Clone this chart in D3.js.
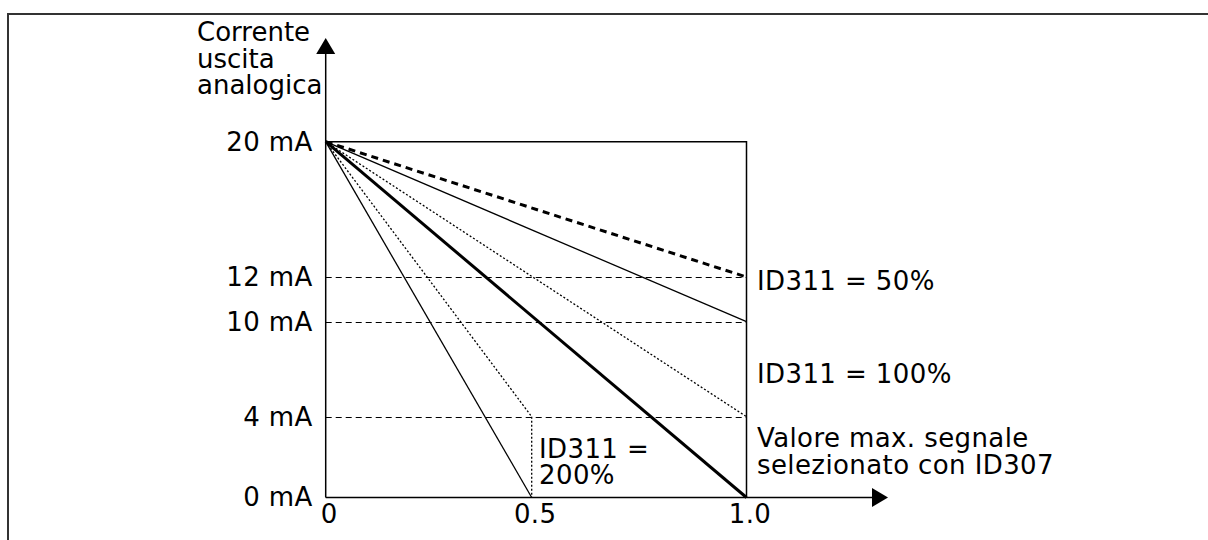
<!DOCTYPE html>
<html>
<head>
<meta charset="utf-8">
<script src="https://cdn.jsdelivr.net/npm/d3@7"></script>
<style>
  html, body { margin: 0; padding: 0; background: #fff; }
  svg { display: block; }
  text { font-family: "DejaVu Sans", Verdana, sans-serif; fill: #000; letter-spacing: 0.4px; }
  text.title { letter-spacing: 0px; }
</style>
</head>
<body>
<svg id="chart" width="1208" height="540"></svg>
<script>
// ---- data ----
const xTicks = [0, 0.5, 1.0];
const xTickLabels = ["0", "0.5", "1.0"];
const yTicks = [0, 4, 10, 12, 20];
const yTickLabels = ["0 mA", "4 mA", "10 mA", "12 mA", "20 mA"];
const yAxisTitle = ["Corrente", "uscita", "analogica"];
// every characteristic line starts at (0, 20 mA)
const startX = 0, startY = 20;
const endX = [1.0, 1.0, 1.0, 1.0, 0.5, 0.5];
const endY = [12, 10, 4, 0, 4, 0];
const guideLevels = [12, 10, 4];          // horizontal dashed helper lines
const annotations = [
  { lines: ["ID311 = 50%"] },
  { lines: ["ID311 = 100%"] },
  { lines: ["Valore max. segnale", "selezionato con ID307"] },
  { lines: ["ID311 =", "200%"] }
];

// ---- styles / layout ----
const lineStyles = [
  { w: 3,   dash: "7,5" },
  { w: 1.3, dash: null },
  { w: 1.3, dash: "2,2" },
  { w: 3,   dash: null },
  { w: 1.3, dash: "2,2" },
  { w: 1.3, dash: null }
];
const annoPos = [
  { x: 757, y: 290 },
  { x: 757, y: 383 },
  { x: 757, y: 447, lh: 26.5 },
  { x: 539, y: 458, lh: 25.5 }
];
const FS = 26;

const svg = d3.select("#chart");

// outer frame
svg.append("rect")
  .attr("x", 8).attr("y", 14).attr("width", 1240).attr("height", 560)
  .attr("fill", "none").attr("stroke", "#333").attr("stroke-width", 2);

// scales (schematic diagram: piecewise-linear axes)
const x = d3.scaleLinear().domain([0, 0.5, 1.0]).range([325.7, 531.7, 746.5]);
const y = d3.scaleLinear().domain([0, 4, 10, 12, 20]).range([497.5, 416.7, 321.7, 277, 141.7]);

const g = svg.append("g");

// guide dashed lines
g.selectAll("line.guide").data(guideLevels).join("line")
  .attr("class", "guide")
  .attr("x1", x(0)).attr("x2", x(1.0))
  .attr("y1", d => Math.round(y(d)) + 0.5).attr("y2", d => Math.round(y(d)) + 0.5)
  .attr("stroke", "#000").attr("stroke-width", 1.2).attr("stroke-dasharray", "6,4");

// box: top at 20 mA and right side at 1.0
g.append("path")
  .attr("d", `M${x(0)},${y(20)}H${x(1.0)}V${y(0)}`)
  .attr("fill", "none").attr("stroke", "#000").attr("stroke-width", 1.5);

// vertical dotted drop at 0.5 from 4 mA
g.append("line")
  .attr("x1", x(0.5)).attr("x2", x(0.5))
  .attr("y1", y(4)).attr("y2", y(0))
  .attr("stroke", "#000").attr("stroke-width", 1.3).attr("stroke-dasharray", "2,2");

// characteristic lines
const lineGen = d3.line().x(d => x(d[0])).y(d => y(d[1]));
g.selectAll("path.curve").data(endX.map((ex, i) => [[startX, startY], [ex, endY[i]]])).join("path")
  .attr("class", "curve")
  .attr("d", lineGen)
  .attr("fill", "none")
  .attr("stroke", "#000")
  .attr("stroke-width", (d, i) => lineStyles[i].w)
  .attr("stroke-dasharray", (d, i) => lineStyles[i].dash);

// axes lines with arrows
g.append("line").attr("x1", x(0)).attr("x2", x(0)).attr("y1", y(0)).attr("y2", 54)
  .attr("stroke", "#000").attr("stroke-width", 1.5);
g.append("path").attr("d", `M${x(0)},38L${x(0) - 9.5},54L${x(0) + 9.5},54Z`).attr("fill", "#000");
g.append("line").attr("x1", x(0)).attr("x2", 872).attr("y1", y(0)).attr("y2", y(0))
  .attr("stroke", "#000").attr("stroke-width", 1.5);
g.append("path").attr("d", `M888,${y(0)}L872,${y(0) - 9.5}L872,${y(0) + 9.5}Z`).attr("fill", "#000");

// tick labels via d3 axes
const yAxis = d3.axisLeft(y).tickValues(yTicks).tickSize(0).tickPadding(13)
  .tickFormat(d => yTickLabels[yTicks.indexOf(d)]);
const ya = g.append("g").attr("transform", `translate(${x(0)},0)`).call(yAxis);
ya.select(".domain").remove();
ya.selectAll("text").attr("font-size", FS).attr("font-family", "DejaVu Sans").attr("fill", "#000");

const xAxis = d3.axisBottom(x).tickValues(xTicks).tickSize(0).tickPadding(7)
  .tickFormat(d => xTickLabels[xTicks.indexOf(d)]);
const xa = g.append("g").attr("transform", `translate(0,${y(0)})`).call(xAxis);
xa.select(".domain").remove();
xa.selectAll("text").attr("font-size", FS).attr("font-family", "DejaVu Sans").attr("fill", "#000").attr("dx", 3);

// y axis title
const yt = g.append("text").attr("class", "title").attr("x", 197).attr("y", 41).attr("font-size", FS);
yt.selectAll("tspan").data(yAxisTitle).join("tspan")
  .attr("x", 197).attr("dy", (d, i) => i === 0 ? 0 : 26.5).text(d => d);

// annotations
annotations.forEach((a, k) => {
  const p = annoPos[k];
  const t = g.append("text").attr("x", p.x).attr("y", p.y).attr("font-size", FS);
  t.selectAll("tspan").data(a.lines).join("tspan")
    .attr("x", p.x).attr("dy", (d, i) => i === 0 ? 0 : p.lh).text(d => d);
});
</script>
</body>
</html>
